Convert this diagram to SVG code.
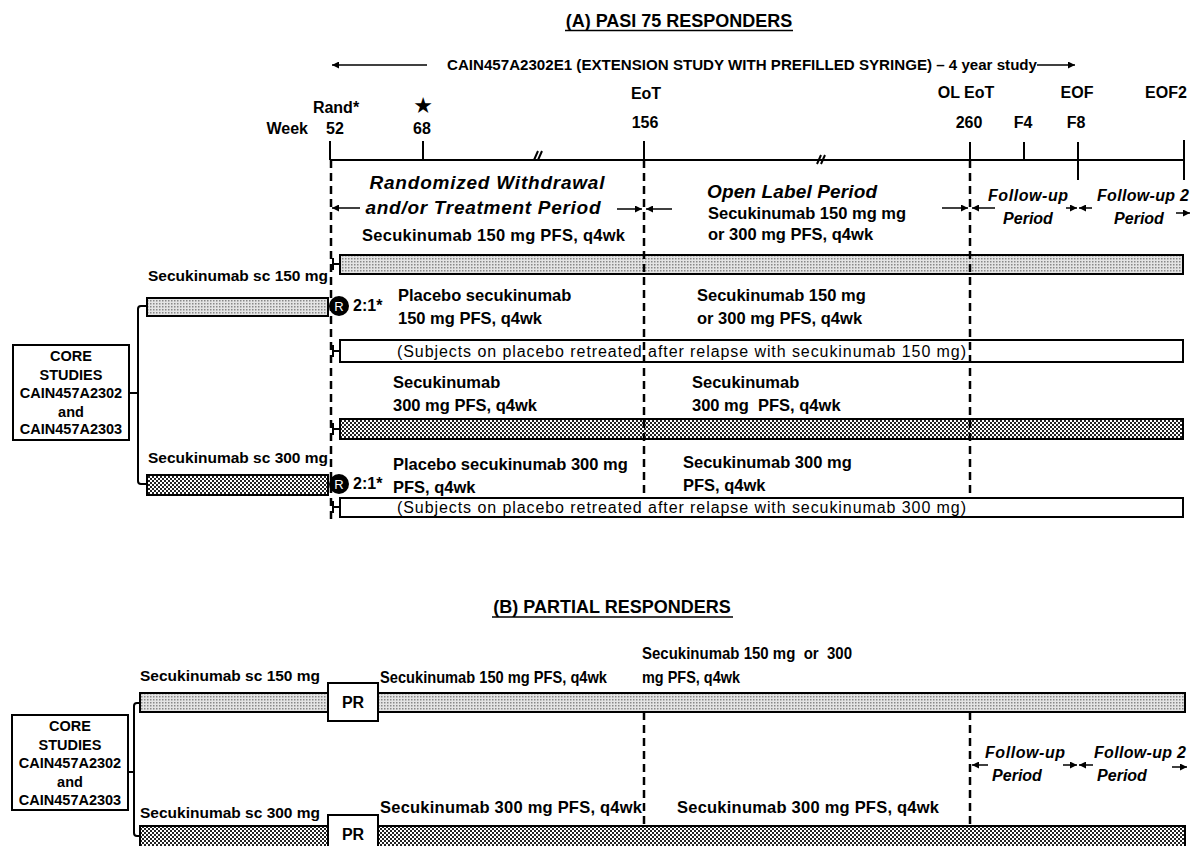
<svg xmlns="http://www.w3.org/2000/svg" width="1192" height="846" viewBox="0 0 1192 846">
<style>
.t{font-family:"Liberation Sans",Arial,sans-serif;font-weight:bold;fill:#000}
.d{font-size:16.5px}
.s{font-size:15.5px}
.l{font-size:16px}
.i{font-style:italic}
.c{text-anchor:middle}
.r{font-family:"Liberation Sans",Arial,sans-serif;font-size:16px;fill:#000}
.pre{white-space:pre}
.bar{stroke:#000;stroke-width:2}
.box{fill:#fff;stroke:#000;stroke-width:2}
.ln{fill:none;stroke:#000;stroke-width:2}
.dash{fill:none;stroke:#000;stroke-width:2.5;stroke-dasharray:8 5}
.ar{fill:none;stroke:#000;stroke-width:1.5;marker-end:url(#ah)}
</style>
<defs>
<pattern id="p150" width="3" height="3" patternUnits="userSpaceOnUse"><rect width="3" height="3" fill="#e4e4e4"/><rect width="1.5" height="1.5" fill="#888"/></pattern>
<pattern id="p300" width="4" height="4" patternUnits="userSpaceOnUse"><rect width="4" height="4" fill="#fff"/><rect width="2" height="2" fill="#222"/><rect x="2" y="2" width="2" height="2" fill="#222"/></pattern>
<marker id="ah" viewBox="0 0 10 10" refX="10" refY="5" markerWidth="8" markerHeight="7" markerUnits="userSpaceOnUse" orient="auto"><path d="M0,0 L10,5 L0,10 z" fill="#000"/></marker>
</defs>
<rect width="1192" height="846" fill="#fff"/>

<!-- Section A -->
<g id="titleA">
<text class="t c" x="679" y="27" font-size="18">(A) PASI 75 RESPONDERS</text>
<line x1="565" y1="30.5" x2="793" y2="30.5" stroke="#000" stroke-width="1.5"/>
</g>
<g id="header">
<text class="t" x="447" y="70" font-size="14" textLength="590" lengthAdjust="spacingAndGlyphs">CAIN457A2302E1 (EXTENSION STUDY WITH PREFILLED SYRINGE) – 4 year study</text>
</g>
<g id="timeline-labels">
<text class="t l c" x="336" y="113">Rand*</text>
<text class="t l" x="308" y="134" text-anchor="end">Week</text>
<text class="t l c" x="335" y="134">52</text>
<text x="423" y="113" font-family="DejaVu Sans,sans-serif" font-size="22" text-anchor="middle">★</text>
<text class="t l c" x="422" y="134">68</text>
<text class="t l c" x="646" y="99">EoT</text>
<text class="t l c" x="645" y="128">156</text>
<text class="t l c" x="966" y="98">OL EoT</text>
<text class="t l c" x="1077" y="98">EOF</text>
<text class="t l c" x="1166" y="98">EOF2</text>
<text class="t l c" x="969" y="128">260</text>
<text class="t l c" x="1023" y="128">F4</text>
<text class="t l c" x="1076" y="128">F8</text>
</g>
<g id="timeline">
<path class="ln" d="M330,160 H1185" stroke-width="3"/>
<path class="ln" stroke-width="3" d="M330,141 V160 M423,141 V160 M644,141 V160 M970,142 V160 M1024,142 V160 M1078,142 V180 M1184,140 V180"/>
<path class="ln" stroke-width="1.2" d="M534,160 L538,151 M538,160 L542,151 M817,164 L821,155 M821,164 L825,155"/>
</g>
<g id="periodsA">
<text class="t i c" x="487" y="189" font-size="19" textLength="235">Randomized Withdrawal</text>
<text class="t i c" x="483" y="214" font-size="19" textLength="235">and/or Treatment Period</text>
<text class="t i c" x="792" y="198" font-size="19" textLength="170">Open Label Period</text>
<text class="t i c" x="1028" y="201" font-size="16" textLength="80">Follow-up</text>
<text class="t i c" x="1028" y="224" font-size="16">Period</text>
<text class="t i c" x="1143" y="201" font-size="16" textLength="92">Follow-up 2</text>
<text class="t i c" x="1139" y="224" font-size="16">Period</text>
</g>

<g id="row150">
<text class="t d" x="362" y="241" textLength="263">Secukinumab 150 mg PFS, q4wk</text>
<text class="t d" x="708" y="219">Secukinumab 150 mg mg</text>
<text class="t d" x="708" y="240">or 300 mg PFS, q4wk</text>
<rect class="bar" x="340" y="255" width="843" height="19" fill="url(#p150)"/>
<text class="t s" x="148" y="281">Secukinumab sc 150 mg</text>
<rect class="bar" x="147" y="298" width="181" height="18" fill="url(#p150)"/>
<text class="t d" x="398" y="301">Placebo secukinumab</text>
<text class="t d" x="398" y="324">150 mg PFS, q4wk</text>
<text class="t d" x="697" y="301">Secukinumab 150 mg</text>
<text class="t d" x="697" y="324">or 300 mg PFS, q4wk</text>
<rect class="box" x="340" y="340" width="843" height="22"/>
<text class="r" x="397" y="357" textLength="569">(Subjects on placebo retreated after relapse with secukinumab 150 mg)</text>
</g>
<g id="rand150">
<circle cx="339" cy="306" r="10" fill="#000"/>
<text x="339" y="311" font-family="Liberation Sans,Arial,sans-serif" font-size="13" fill="#fff" text-anchor="middle">R</text>
<text class="t l" x="353" y="311">2:1*</text>
</g>

<g id="row300">
<text class="t d" x="393" y="388">Secukinumab</text>
<text class="t d" x="393" y="411">300 mg PFS, q4wk</text>
<text class="t d" x="692" y="388">Secukinumab</text>
<text class="t d pre" x="692" y="411">300 mg  PFS, q4wk</text>
<rect class="bar" x="340" y="419" width="843" height="20" fill="url(#p300)"/>
<text class="t s" x="148" y="463">Secukinumab sc 300 mg</text>
<rect class="bar" x="147" y="475" width="181" height="20" fill="url(#p300)"/>
<text class="t d" x="393" y="470">Placebo secukinumab 300 mg</text>
<text class="t d" x="393" y="493">PFS, q4wk</text>
<text class="t d" x="683" y="468">Secukinumab 300 mg</text>
<text class="t d" x="683" y="491">PFS, q4wk</text>
<rect class="box" x="340" y="498" width="843" height="19"/>
<text class="r" x="397" y="513" textLength="569">(Subjects on placebo retreated after relapse with secukinumab 300 mg)</text>
</g>
<g id="rand300">
<circle cx="339" cy="484" r="10" fill="#000"/>
<text x="339" y="489" font-family="Liberation Sans,Arial,sans-serif" font-size="13" fill="#fff" text-anchor="middle">R</text>
<text class="t l" x="353" y="489">2:1*</text>
</g>

<g id="coreA">
<rect class="box" x="13" y="345" width="116" height="95"/>
<text class="t c" x="71" y="361" font-size="14.5">CORE</text>
<text class="t c" x="71" y="380" font-size="14.5">STUDIES</text>
<text class="t c" x="71" y="398" font-size="14.5">CAIN457A2302</text>
<text class="t c" x="71" y="417" font-size="14.5">and</text>
<text class="t c" x="71" y="434" font-size="14.5">CAIN457A2303</text>
</g>

<!-- Section B -->
<g id="titleB">
<text class="t c" x="612" y="613" font-size="18">(B) PARTIAL RESPONDERS</text>
<line x1="492" y1="617" x2="733" y2="617" stroke="#000" stroke-width="1.5"/>
</g>
<g id="rowB150">
<text class="t s" x="140" y="681">Secukinumab sc 150 mg</text>
<text class="t" x="380" y="683" font-size="16.5" textLength="227" lengthAdjust="spacingAndGlyphs">Secukinumab 150 mg PFS, q4wk</text>
<text class="t pre" x="642" y="659" font-size="16.5" textLength="210" lengthAdjust="spacingAndGlyphs">Secukinumab 150 mg  or  300</text>
<text class="t" x="642" y="683" font-size="16.5" textLength="98" lengthAdjust="spacingAndGlyphs">mg PFS, q4wk</text>
<rect class="bar" x="140" y="693" width="1045" height="19" fill="url(#p150)"/>
</g>
<g id="prB150">
<rect class="box" x="328" y="683" width="50" height="38"/>
<text class="t l c" x="353" y="708">PR</text>
</g>
<g id="followB">
<text class="t i c" x="1025" y="758" font-size="16" textLength="80">Follow-up</text>
<text class="t i c" x="1017" y="781" font-size="16">Period</text>
<text class="t i c" x="1140" y="758" font-size="16" textLength="92">Follow-up 2</text>
<text class="t i c" x="1122" y="781" font-size="16">Period</text>
</g>
<g id="rowB300">
<text class="t s" x="140" y="818">Secukinumab sc 300 mg</text>
<text class="t d" x="380" y="813" textLength="262">Secukinumab 300 mg PFS, q4wk</text>
<text class="t d" x="677" y="813" textLength="262">Secukinumab 300 mg PFS, q4wk</text>
<rect class="bar" x="140" y="826" width="1045" height="24" fill="url(#p300)"/>
</g>
<g id="prB300">
<rect class="box" x="328" y="815" width="50" height="40"/>
<text class="t l c" x="353" y="840">PR</text>
</g>
<g id="coreB">
<rect class="box" x="12" y="715" width="116" height="95"/>
<text class="t c" x="70" y="731" font-size="14.5">CORE</text>
<text class="t c" x="70" y="750" font-size="14.5">STUDIES</text>
<text class="t c" x="70" y="768" font-size="14.5">CAIN457A2302</text>
<text class="t c" x="70" y="787" font-size="14.5">and</text>
<text class="t c" x="70" y="805" font-size="14.5">CAIN457A2303</text>
</g>

<g id="connectors">
<path class="dash" d="M331,160 V522 M644,160 V498 M970,160 V498 M644,712 V826 M970,712 V826"/>
<path class="ln" stroke-width="1.5" d="M333,258 V270 M333,264 H340 M333,345 V357 M333,351 H340 M333,423 V435 M333,429 H340 M333,501 V513 M333,507 H340"/>
<path class="ln" stroke-width="1.8" d="M147,306 H141 Q138,306 138,309 V481 Q138,484 141,484 H147 M129,393 H138"/>
<path class="ln" stroke-width="1.8" d="M140,703 H137 Q134,703 134,706 V833 Q134,836 137,836 H140 M128,772 H134"/>
<line class="ar" x1="427" y1="65" x2="332" y2="65"/>
<line class="ar" x1="1037" y1="65" x2="1075" y2="65"/>
<line class="ar" x1="360" y1="208" x2="332" y2="208"/>
<line class="ar" x1="617" y1="209" x2="642" y2="209"/>
<line class="ar" x1="672" y1="209" x2="646" y2="209"/>
<line class="ar" x1="942" y1="208" x2="968" y2="208"/>
<line class="ar" x1="995" y1="208" x2="972" y2="208"/>
<line class="ar" x1="1066" y1="208" x2="1077" y2="208"/>
<line class="ar" x1="1092" y1="208" x2="1079" y2="208"/>
<line class="ar" x1="1176" y1="213" x2="1190" y2="213"/>
<line class="ar" x1="988" y1="765" x2="972" y2="765"/>
<line class="ar" x1="1063" y1="765" x2="1077" y2="765"/>
<line class="ar" x1="1093" y1="765" x2="1079" y2="765"/>
<line class="ar" x1="1172" y1="767" x2="1187" y2="767"/>
</g>
</svg>
